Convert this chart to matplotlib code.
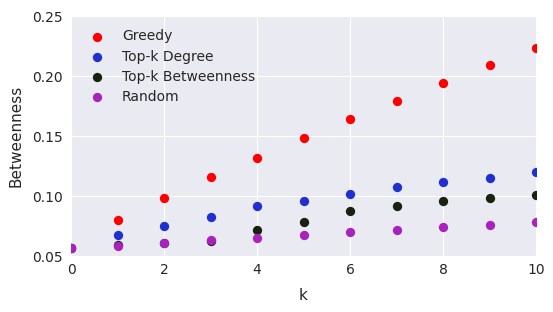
import matplotlib
matplotlib.use("Agg")
import matplotlib.pyplot as plt
import seaborn as sns

k = list(range(11))
greedy = [0.057, 0.080, 0.098, 0.116, 0.132, 0.148, 0.164, 0.179, 0.194, 0.209, 0.223]
topk_degree = [0.057, 0.0675, 0.075, 0.0825, 0.0917, 0.096, 0.102, 0.1075, 0.112, 0.115, 0.120]
topk_betw = [0.057, 0.059, 0.061, 0.0625, 0.0717, 0.078, 0.0875, 0.0917, 0.096, 0.098, 0.101]
random_ = [0.057, 0.0585, 0.061, 0.063, 0.065, 0.0675, 0.070, 0.0717, 0.074, 0.076, 0.078]

series = [
    ("Greedy", greedy, "#ff0000"),
    ("Top-k Degree", topk_degree, "#1f2fd2"),
    ("Top-k Betweenness", topk_betw, "#17230f"),
    ("Random", random_, "#a822bb"),
]

sns.set_style("darkgrid")
plt.rcParams['font.family'] = ['DejaVu Sans']

fig = plt.figure(figsize=(5.53, 3.12), dpi=100)
ax = fig.add_axes([71/553, 1 - 256/312, (536-71)/553, (256-16)/312])
for name, vals, col in series:
    sc = ax.scatter(k, vals, marker='o', color=col, label=name, s=45, linewidths=0, zorder=3)
    sc.set_clip_path(ax.patch)

ax.set_xlim(0, 10)
ax.set_ylim(0.05, 0.25)
ax.set_xticks([0, 2, 4, 6, 8, 10])
ax.set_yticks([0.05, 0.10, 0.15, 0.20, 0.25])
ax.set_xlabel("k", fontsize=11, color="#262626", labelpad=8)
ax.set_ylabel("Betweenness", fontsize=11, color="#262626", labelpad=6)
ax.tick_params(axis='y', labelsize=10, colors="#262626", length=0, pad=6)
ax.tick_params(axis='x', labelsize=10, colors="#262626", length=0, pad=5)
for s in ax.spines.values():
    s.set_visible(False)
ax.legend(loc="upper left", frameon=False, fontsize=10, scatterpoints=1, handletextpad=0.8,
          bbox_to_anchor=(0.005, 0.985), borderaxespad=0.3, labelspacing=0.45)
fig.savefig("out.png", dpi=100)
